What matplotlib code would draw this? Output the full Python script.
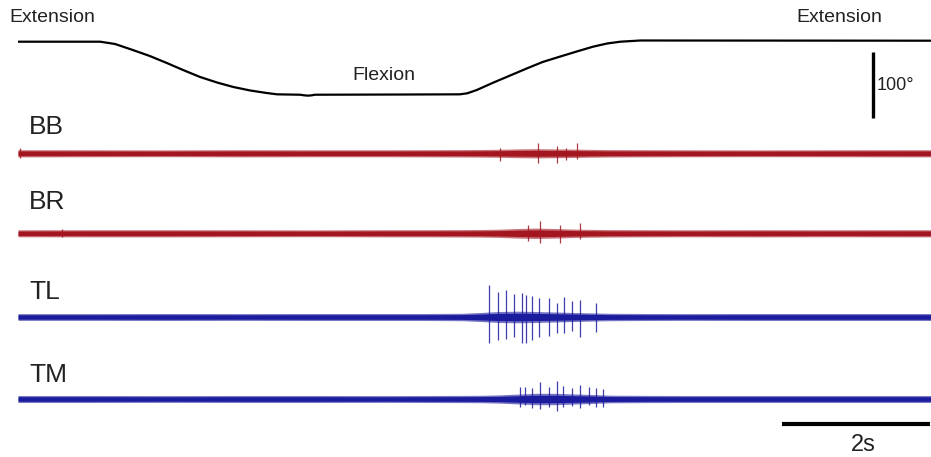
import numpy as np
import matplotlib
matplotlib.use("Agg")
import matplotlib.pyplot as plt

plt.rcParams['font.family'] = ['Liberation Sans', 'DejaVu Sans']

# elbow angle (time s, flexion deg)
angle_t = [0, 1.11, 1.31, 1.55, 1.78, 2.01, 2.23, 2.46, 2.69, 2.91, 3.14, 3.36, 3.50,
           3.81, 3.87, 3.92, 3.97, 4.01, 5.16, 5.97, 6.07, 6.20, 6.42, 6.65, 6.88,
           7.09, 7.32, 7.55, 7.77, 7.96, 8.14, 8.41, 12.34]
angle_deg = [0, 0, 3.4, 12.4, 21.4, 31.9, 42.4, 52.9, 61.2, 67.9, 73.2, 76.9, 78.9,
             79.5, 80.4, 80.9, 80.4, 79.5, 79.2, 78.9, 77.4, 72.4, 61.5, 50.7, 39.9,
             30.4, 22.5, 14.7, 7.5, 2.7, 0, -1.8, -1.5]

# EMG envelope (half width, mV) on a shared time grid
env_t = [0, 1, 2, 3, 4, 5, 5.5, 6, 6.25, 6.5, 6.75, 7, 7.25, 7.5, 7.75, 8, 8.5, 9, 10, 11, 12, 12.34]
env_bb = [0.36, 0.35, 0.34, 0.36, 0.35, 0.35, 0.36, 0.37, 0.38, 0.40, 0.44, 0.46, 0.44, 0.42, 0.39, 0.37, 0.36, 0.35, 0.34, 0.35, 0.36, 0.36]
env_br = [0.35, 0.36, 0.36, 0.35, 0.34, 0.36, 0.36, 0.37, 0.38, 0.41, 0.48, 0.52, 0.48, 0.42, 0.39, 0.37, 0.36, 0.35, 0.36, 0.35, 0.36, 0.36]
env_tl = [0.34, 0.34, 0.35, 0.34, 0.35, 0.35, 0.35, 0.37, 0.45, 0.55, 0.58, 0.55, 0.50, 0.45, 0.41, 0.37, 0.35, 0.34, 0.35, 0.35, 0.35, 0.35]
env_tm = [0.35, 0.35, 0.34, 0.35, 0.35, 0.34, 0.35, 0.36, 0.37, 0.41, 0.49, 0.57, 0.57, 0.51, 0.45, 0.38, 0.36, 0.35, 0.35, 0.35, 0.35, 0.35]

# single visible spikes (time s, up mV, down mV)
spk_bb_t = [0.03, 6.51, 7.03, 7.28, 7.41, 7.55]
spk_bb_up = [0.5, 0.5, 1.0, 0.73, 0.5, 1.0]
spk_bb_dn = [0.5, 0.8, 1.0, 1.0, 0.7, 0.57]

spk_br_t = [0.59, 6.89, 7.05, 7.32, 7.59]
spk_br_up = [0.4, 0.8, 1.25, 0.8, 1.0]
spk_br_dn = [0.4, 0.8, 1.0, 1.0, 0.6]

spk_tl_t = [6.37, 6.48, 6.59, 6.70, 6.81, 6.87, 6.95, 7.04, 7.17, 7.29, 7.38, 7.48, 7.59, 7.81]
spk_tl_up = [3.2, 2.5, 2.7, 2.3, 2.4, 2.2, 2.1, 1.9, 1.9, 1.4, 2.0, 1.6, 1.7, 1.4]
spk_tl_dn = [2.6, 2.3, 2.2, 2.0, 2.6, 2.6, 2.3, 2.0, 1.9, 1.6, 1.6, 1.4, 2.0, 1.5]

spk_tm_t = [6.79, 6.85, 6.94, 7.05, 7.17, 7.29, 7.37, 7.48, 7.59, 7.71, 7.81, 7.91]
spk_tm_up = [1.23, 1.17, 1.07, 1.73, 1.17, 1.83, 1.3, 1.07, 1.4, 1.17, 1.07, 0.97]
spk_tm_dn = [0.83, 0.6, 0.93, 1.03, 0.83, 1.17, 0.77, 0.7, 0.93, 0.6, 0.77, 0.83]

RED = '#a3151f'
BLUE = '#1b1b9e'
TXT = '#222222'

# layout (x in seconds, y in pixels from top)
PX_PER_S = 74.0
X0 = 18.0
PX_PER_DEG = 0.667
PX_PER_MV = 10.0
ANGLE_Y0 = 41.7

fig = plt.figure(figsize=(9.31, 4.57), dpi=100)
ax = fig.add_axes([0, 0, 1, 1])
ax.set_xlim(-X0 / PX_PER_S, (931 - X0) / PX_PER_S)
ax.set_ylim(457, 0)
ax.axis('off')

# angle trace
ay = ANGLE_Y0 + np.array(angle_deg) * PX_PER_DEG
ax.plot(angle_t, ay, color='black', lw=1.6, solid_capstyle='butt', solid_joinstyle='round')

# 100 degree scale bar
ax.plot([11.56, 11.56], [51.7, 51.7 + 100 * PX_PER_DEG], color='black', lw=2.4, solid_capstyle='butt')
ax.text(11.60, 85, '100°', fontsize=13, color=TXT, ha='left', va='center')

ax.text(-0.11, 18, 'Extension', fontsize=14, color=TXT, ha='left', va='center')
ax.text(11.68, 18, 'Extension', fontsize=14, color=TXT, ha='right', va='center')
ax.text(4.95, 75, 'Flexion', fontsize=14, color=TXT, ha='center', va='center')

traces = [
    ('BB', 153.3, 127, env_bb, spk_bb_t, spk_bb_up, spk_bb_dn, RED),
    ('BR', 233.3, 202, env_br, spk_br_t, spk_br_up, spk_br_dn, RED),
    ('TL', 317.0, 292, env_tl, spk_tl_t, spk_tl_up, spk_tl_dn, BLUE),
    ('TM', 399.0, 375, env_tm, spk_tm_t, spk_tm_up, spk_tm_dn, BLUE),
]

for name, base, label_y, env, st, su, sd, col in traces:
    e = np.array(env) * PX_PER_MV
    ax.fill_between(env_t, base - e, base + e, color=col, alpha=0.6, lw=0)
    ax.fill_between(env_t, base - 0.65 * e, base + 0.65 * e, color=col, lw=0)
    ax.vlines(st, base - np.array(su) * PX_PER_MV, base + np.array(sd) * PX_PER_MV,
              color=col, lw=0.9, alpha=0.85)
    ax.text((29 - X0) / PX_PER_S, label_y, name, fontsize=19, color=TXT, ha='left', va='center')

# 2 s scale bar
ax.plot([10.33, 12.33], [424.3, 424.3], color='black', lw=3, solid_capstyle='butt')
ax.text((863 - X0) / PX_PER_S, 445, '2s', fontsize=17, color=TXT, ha='center', va='center')

fig.savefig('out.png', dpi=100)
